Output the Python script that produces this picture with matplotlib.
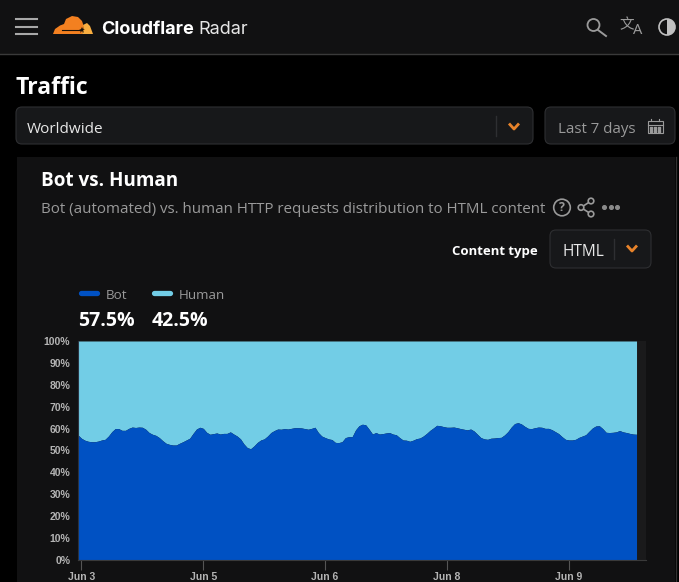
import pandas as pd
import matplotlib
matplotlib.use('Agg')
import matplotlib.pyplot as plt
import matplotlib.dates as mdates
from matplotlib.patches import Circle, FancyBboxPatch, Polygon, Rectangle, Wedge

# share of bot requests, one value per hour
botShare = [
    57.1, 55.6, 54.7, 54.2, 54.0, 54.0, 54.3, 54.8, 55.1, 56.6, 58.6, 60.0, 60.0, 59.2,
    59.2, 60.1, 60.7, 60.5, 60.7, 60.6, 59.7, 58.2, 57.4, 56.9, 55.9, 54.5, 53.3, 52.8,
    52.5, 52.5, 53.3, 54.0, 54.8, 55.6, 57.8, 59.8, 60.6, 60.1, 58.3, 57.4, 57.7, 58.0,
    57.5, 57.8, 57.8, 58.5, 57.5, 56.6, 55.3, 53.0, 51.3, 50.8, 52.1, 53.7, 54.8, 55.3,
    56.6, 58.2, 59.1, 59.8, 59.7, 60.0, 59.8, 60.1, 60.4, 60.4, 60.3, 60.0, 59.7, 60.1,
    60.6, 58.2, 56.6, 55.9, 55.3, 55.0, 53.7, 53.6, 54.0, 55.9, 56.3, 56.3, 59.4,
    61.3, 62.0, 61.7, 59.7, 57.5, 58.2, 57.5, 57.7, 58.0, 58.2, 57.5, 57.2, 55.9, 54.8,
    54.7, 54.2, 54.7, 55.4, 55.7, 56.6, 57.8, 59.2, 60.3, 61.5, 61.3, 60.9, 60.6, 60.6,
    60.7, 60.4, 60.0, 59.7, 59.4, 59.8, 58.9, 57.4, 55.9, 55.3, 55.1, 55.6, 55.7, 55.9,
    56.0, 57.1, 58.6, 60.7, 62.3, 62.7, 62.1, 61.0, 60.1, 60.0, 60.4, 60.7, 60.6, 60.1,
    60.1, 59.5, 58.6, 57.7, 56.3, 55.1, 54.8, 54.8, 55.1, 56.0, 56.6, 57.2, 58.8, 60.3,
    61.2, 61.3, 60.0, 58.3, 58.2, 58.3, 58.5, 59.1, 58.5, 58.2, 57.8, 57.5, 57.4,
]
tickDates = ['2024-06-03 12:00', '2024-06-05 00:00', '2024-06-06 12:00', '2024-06-08 00:00', '2024-06-09 12:00']
tickLabels = ['Jun 3', 'Jun 5', 'Jun 6', 'Jun 8', 'Jun 9']
percentTicks = [0, 10, 20, 30, 40, 50, 60, 70, 80, 90, 100]
legendNames = ['Bot', 'Human']
legendValues = ['57.5%', '42.5%']

BLUE = '#0051C3'
LIGHT = '#72CDE6'
PANEL = '#111112'
BOX = '#17181A'
EDGE = '#2E2F32'
ORANGE = '#E8832A'
GREY = '#9A9A9A'

WIDTH, HEIGHT = 679, 582
fig = plt.figure(figsize=(WIDTH / 100, HEIGHT / 100), dpi=100, facecolor='black')

# page furniture is drawn in pixel coordinates
page = fig.add_axes([0, 0, 1, 1])
page.set_xlim(0, WIDTH)
page.set_ylim(HEIGHT, 0)
page.axis('off')


def box(x0, y0, x1, y1, face=BOX, edge=EDGE):
    page.add_patch(FancyBboxPatch((x0, y0), x1 - x0, y1 - y0, boxstyle='round,pad=0,rounding_size=6',
                                  facecolor=face, edgecolor=edge, linewidth=0.8))


def chevron(x, y):
    page.plot([x - 5, x, x + 5], [y - 3, y + 2.5, y - 3], color=ORANGE, lw=2, solid_capstyle='butt')


def label(x, y, text, size, color='white', weight='normal', family='Open Sans', ha='left'):
    page.text(x, y, text, fontsize=size, color=color, fontweight=weight, family=family, ha=ha, va='center_baseline')


# top bar
page.add_patch(Rectangle((0, 0), WIDTH, 54, facecolor=PANEL, edgecolor='none'))
page.plot([0, WIDTH], [54, 54], color='#3A3A3A', lw=1)
for y in [19, 27, 34]:
    page.plot([16, 37], [y, y], color='#A8A8A8', lw=1.5)

# cloud logo
page.add_patch(Polygon([[53, 34], [55, 29], [60, 25.5], [64, 24], [66, 19], [72, 16], [78, 17], [82, 21],
                        [84, 27], [83, 31], [82, 34]], facecolor='#F38020', edgecolor='none'))
page.add_patch(Polygon([[82, 34], [84, 28], [83, 25], [87, 23], [90, 26], [93, 34]], facecolor='#FAAE40', edgecolor='none'))
page.plot([62, 82], [30, 30], color='#1A1208', lw=0.8)
page.plot([82], [30], marker='*', ms=5, color='#1A1208', mew=0)

label(101, 27.5, 'Cloudflare', 13, weight='bold', family='Inter')
label(198, 27.5, 'Radar', 13, color='#E6E6E6', family='Inter')

# search, translate, contrast icons
page.add_patch(Circle((593.5, 25), 6, facecolor='none', edgecolor=GREY, lw=1.3))
page.plot([598, 606], [30, 36], color=GREY, lw=1.4)
page.text(626.5, 25, '文', fontsize=10.5, color=GREY, family='Noto Sans CJK SC', ha='center', va='center')
page.text(637.5, 30.5, 'A', fontsize=10.5, color=GREY, family='Noto Sans', ha='center', va='center')
page.add_patch(Circle((667, 27), 8, facecolor=PANEL, edgecolor='#C0C0C0', lw=1.2))
page.add_patch(Wedge((667, 27), 8, -90, 90, facecolor='#C0C0C0', edgecolor='none'))

label(16, 85, 'Traffic', 16.6, weight='bold')

# filter row
box(16, 107, 533, 144)
page.plot([495.5, 495.5], [116, 136], color=EDGE, lw=1)
chevron(514, 126.5)
label(27, 127.5, 'Worldwide', 11, color='#E8E8E8')
box(545, 107, 675, 144)
label(558, 127.5, 'Last 7 days', 10.8, color=GREY)
page.add_patch(Rectangle((647.5, 121), 15, 12, facecolor='none', edgecolor=GREY, lw=0.8))
page.plot([647.5, 662.5], [124.5, 124.5], color=GREY, lw=0.8)
page.plot([651, 651], [118.5, 121], color=GREY, lw=0.8)
page.plot([659, 659], [118.5, 121], color=GREY, lw=0.8)
page.scatter([651, 655, 659, 651, 655, 659], [127.5, 127.5, 127.5, 130.5, 130.5, 130.5], s=1.2, color=GREY, marker='s')

# card
page.add_patch(Rectangle((17, 157), 658, HEIGHT - 157, facecolor=PANEL, edgecolor='none'))
page.plot([675.5, 675.5], [157, HEIGHT], color='#333333', lw=1)
label(41, 178, 'Bot vs. Human', 13.6, weight='bold')
label(41, 207.5, 'Bot (automated) vs. human HTTP requests distribution to HTML content', 10.86, color=GREY)

# card icons
page.add_patch(Circle((562, 207.5), 8.3, facecolor='none', edgecolor=GREY, lw=1.2))
page.text(562, 207.5, '?', fontsize=9, color=GREY, ha='center', va='center', family='Open Sans', fontweight='bold')
page.plot([591, 581, 591], [201, 207.5, 214], color=GREY, lw=1.2)
for x, y in [(591, 201), (581, 207.5), (591, 214)]:
    page.add_patch(Circle((x, y), 2.8, facecolor=PANEL, edgecolor=GREY, lw=1.2, zorder=3))
page.scatter([604, 610.5, 617], [207, 207, 207], s=7, color='#8A8A8A')

label(538, 249.5, 'Content type', 9.45, weight='bold', ha='right')
box(550, 230, 651, 268)
page.plot([613.5, 613.5], [239, 259], color=EDGE, lw=1)
chevron(632, 248.5)
label(562, 250, 'HTML', 11.2, color='#E8E8E8')

# legend
for x, name, value, color in zip([79, 152], legendNames, legendValues, [BLUE, LIGHT]):
    page.plot([x + 2, x + 18], [293, 293], color=color, lw=3.8, solid_capstyle='round')
    label(x + 27, 294, name, 9.6, color=GREY)
    label(x - 0.5, 318, value, 14, weight='bold')

# chart, the axes run on a little past the last hour
left, right, top, bottom = 78, 646, 341, 560
ax = fig.add_axes([left / WIDTH, 1 - bottom / HEIGHT, (right - left) / WIDTH, (bottom - top) / HEIGHT])
ax.set_facecolor('#1A1A1B')

hours = pd.date_range('2024-06-03 11:00', periods=len(botShare), freq='h')
ax.fill_between(hours, botShare, 100, color=LIGHT, linewidth=0)
ax.fill_between(hours, 0, botShare, color=BLUE, linewidth=0)

ax.set_xlim(hours[0], hours[0] + pd.Timedelta(hours=(right - left) / 3.385))
ax.set_ylim(0, 100)
ax.set_yticks(percentTicks)
ax.set_yticklabels([f'{p}%' for p in percentTicks], fontsize=7.5, color='#B4B4B4', family='Liberation Sans', fontweight='bold')
ax.set_xticks(mdates.date2num(pd.to_datetime(tickDates)))
ax.set_xticklabels(tickLabels, fontsize=7.5, color='#B4B4B4', family='Liberation Sans', fontweight='bold')
ax.tick_params(axis='y', length=0, pad=5.5)
ax.tick_params(axis='x', length=7, width=0.8, color='#555555', pad=2)
for side in ['top', 'right']:
    ax.spines[side].set_visible(False)
ax.spines['left'].set_color('#2A3340')
ax.spines['bottom'].set_color('#3A3A3A')

fig.savefig('out.png', dpi=100, facecolor='black')
